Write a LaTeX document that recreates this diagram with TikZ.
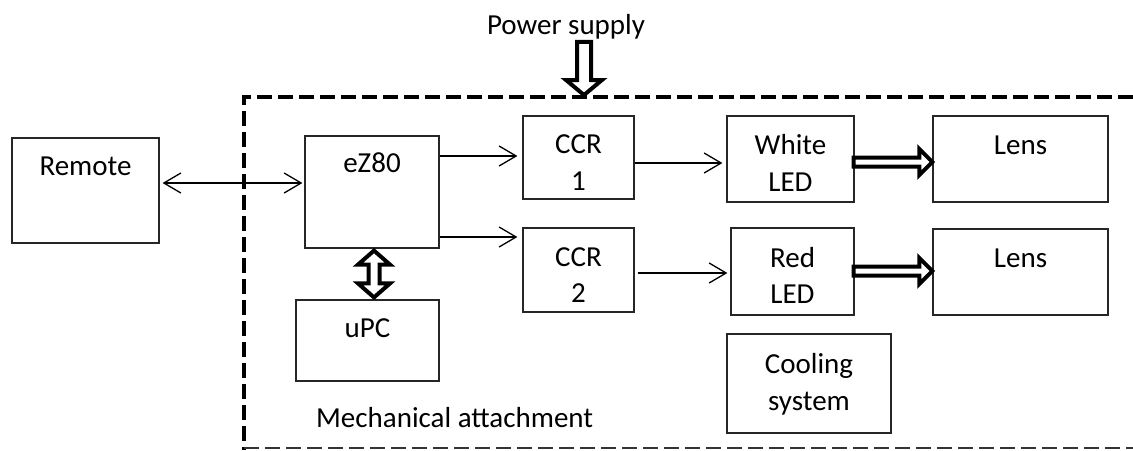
\documentclass[tikz,border=0pt]{standalone}
\usepackage{fontspec}
\setmainfont{Carlito}
\usetikzlibrary{calc,arrows.meta}

\tikzset{
  box/.style={draw=black!85, line width=1.2pt, rectangle, inner sep=0pt},
  txt/.style={font=\fontsize{29}{36.5}\selectfont, inner sep=0pt},
  thin/.style={line width=1.3pt, -{Straight Barb[length=17pt,width=20pt,line width=1.3pt]}},
  both/.style={line width=1.3pt, {Straight Barb[length=17pt,width=20pt,line width=1.3pt]}-{Straight Barb[length=17pt,width=20pt,line width=1.3pt]}},
  hollow/.style={draw=black, fill=white, line width=4pt, line join=miter},
  border/.style={line width=4pt, dash pattern=on 15pt off 6pt},
  borderlow/.style={line width=2pt, draw=black!80, dash pattern=on 15pt off 6pt},
}

\begin{document}
\begin{tikzpicture}[x=1pt, y=-1pt]
\useasboundingbox (0,0) rectangle (1133,450);

% enclosure of the lamp head
\draw[border] (1133,97) -- (244,97) -- (244,450);
\draw[borderlow] (244,448) -- (1133,448);

% blocks with their caption near the top
\node[box, minimum width=147pt, minimum height=105pt,
      label={[txt, anchor=base, yshift=-38pt]north:Remote}] (remote) at (85.5,190.5) {};
\node[box, minimum width=134pt, minimum height=112pt,
      label={[txt, anchor=base, yshift=-37pt]north:eZ80}] (ez) at (372,192) {};
\node[box, minimum width=143pt, minimum height=81pt,
      label={[txt, anchor=base, yshift=-38pt]north:uPC}] (upc) at (367.5,340.5) {};
\node[box, minimum width=175pt, minimum height=86pt,
      label={[txt, anchor=base, yshift=-39pt]north:Lens}] (lens1) at (1020.5,159) {};
\node[box, minimum width=175pt, minimum height=86pt,
      label={[txt, anchor=base, yshift=-39pt]north:Lens}] (lens2) at (1020.5,272) {};

% blocks with a centred two-line caption
\node[box, minimum width=111pt, minimum height=83pt,
      label={[txt, align=center, yshift=-5pt]center:CCR\\1}] (ccr1) at (578.5,157.5) {};
\node[box, minimum width=111pt, minimum height=84pt,
      label={[txt, align=center, yshift=-5pt]center:CCR\\2}] (ccr2) at (578.5,270) {};
\node[box, minimum width=127pt, minimum height=86pt,
      label={[txt, align=center, yshift=-4pt]center:White\\LED}] (wled) at (790.5,159) {};
\node[box, minimum width=123pt, minimum height=87pt,
      label={[txt, align=center, yshift=-4pt]center:Red\\LED}] (rled) at (792.5,271.5) {};
\node[box, minimum width=164pt, minimum height=99pt,
      label={[txt, align=center, yshift=-1pt]center:Cooling\\system}] (cool) at (809,383.5) {};

% free captions
\node[txt, anchor=base] (ps) at (566,34) {Power supply};
\node[txt, anchor=base west] (mech) at (316,427) {Mechanical attachment};
\coordinate (pin) at (584,95);

% signal lines
\draw[both] ($(remote.east)+(3,-7.5)$) -- ($(ez.west)+(-2,-9)$);
\draw[thin] ($(ez.east)+(0,-36)$) -- ($(ccr1.west)+(-5,-1.5)$);
\draw[thin] ($(ez.east)+(0,45)$) -- ($(ccr2.west)+(-5,-33)$);
\draw[thin] ($(ccr1.east)+(0,5.5)$) -- ($(wled.west)+(-4,4)$);
\draw[thin] ($(ccr2.east)+(3,3)$) -- ($(rled.west)+(-3,1.5)$);

% supply feed into the enclosure
\draw[hollow] ($(ps.south)+(11,3)$) -- ($(pin)+(-7,-15)$) -- ($(pin)+(-18,-15)$)
  -- (pin) -- ($(pin)+(18,-15)$) -- ($(pin)+(7,-15)$) -- ($(ps.south)+(25,3)$) -- cycle;

% light paths from the LEDs to the lenses
\draw[hollow] ($(wled.east)+(-1,-1.5)$) -- ($(lens1.west)+(-13,-1.5)$)
  -- ($(lens1.west)+(-13,-10)$) -- ($(lens1.west)+(0,3)$)
  -- ($(lens1.west)+(-13,16)$) -- ($(lens1.west)+(-13,7.5)$)
  -- ($(wled.east)+(-1,7.5)$) -- cycle;
\draw[hollow] ($(rled.east)+(-1,-5)$) -- ($(lens2.west)+(-13,-5.5)$)
  -- ($(lens2.west)+(-13,-14)$) -- ($(lens2.west)+(0,-1)$)
  -- ($(lens2.west)+(-13,12)$) -- ($(lens2.west)+(-13,3.5)$)
  -- ($(rled.east)+(-1,4)$) -- cycle;

% bus between controller and uPC
\draw[hollow] ($(ez.south)+(2,2)$) -- ($(ez.south)+(18,16)$) -- ($(ez.south)+(7.5,16)$)
  -- ($(upc.north)+(12,-16)$) -- ($(upc.north)+(22.5,-16)$) -- ($(upc.north)+(6.5,-2)$)
  -- ($(upc.north)+(-9.5,-16)$) -- ($(upc.north)+(1,-16)$)
  -- ($(ez.south)+(-3.5,16)$) -- ($(ez.south)+(-14,16)$) -- cycle;
\end{tikzpicture}
\end{document}
